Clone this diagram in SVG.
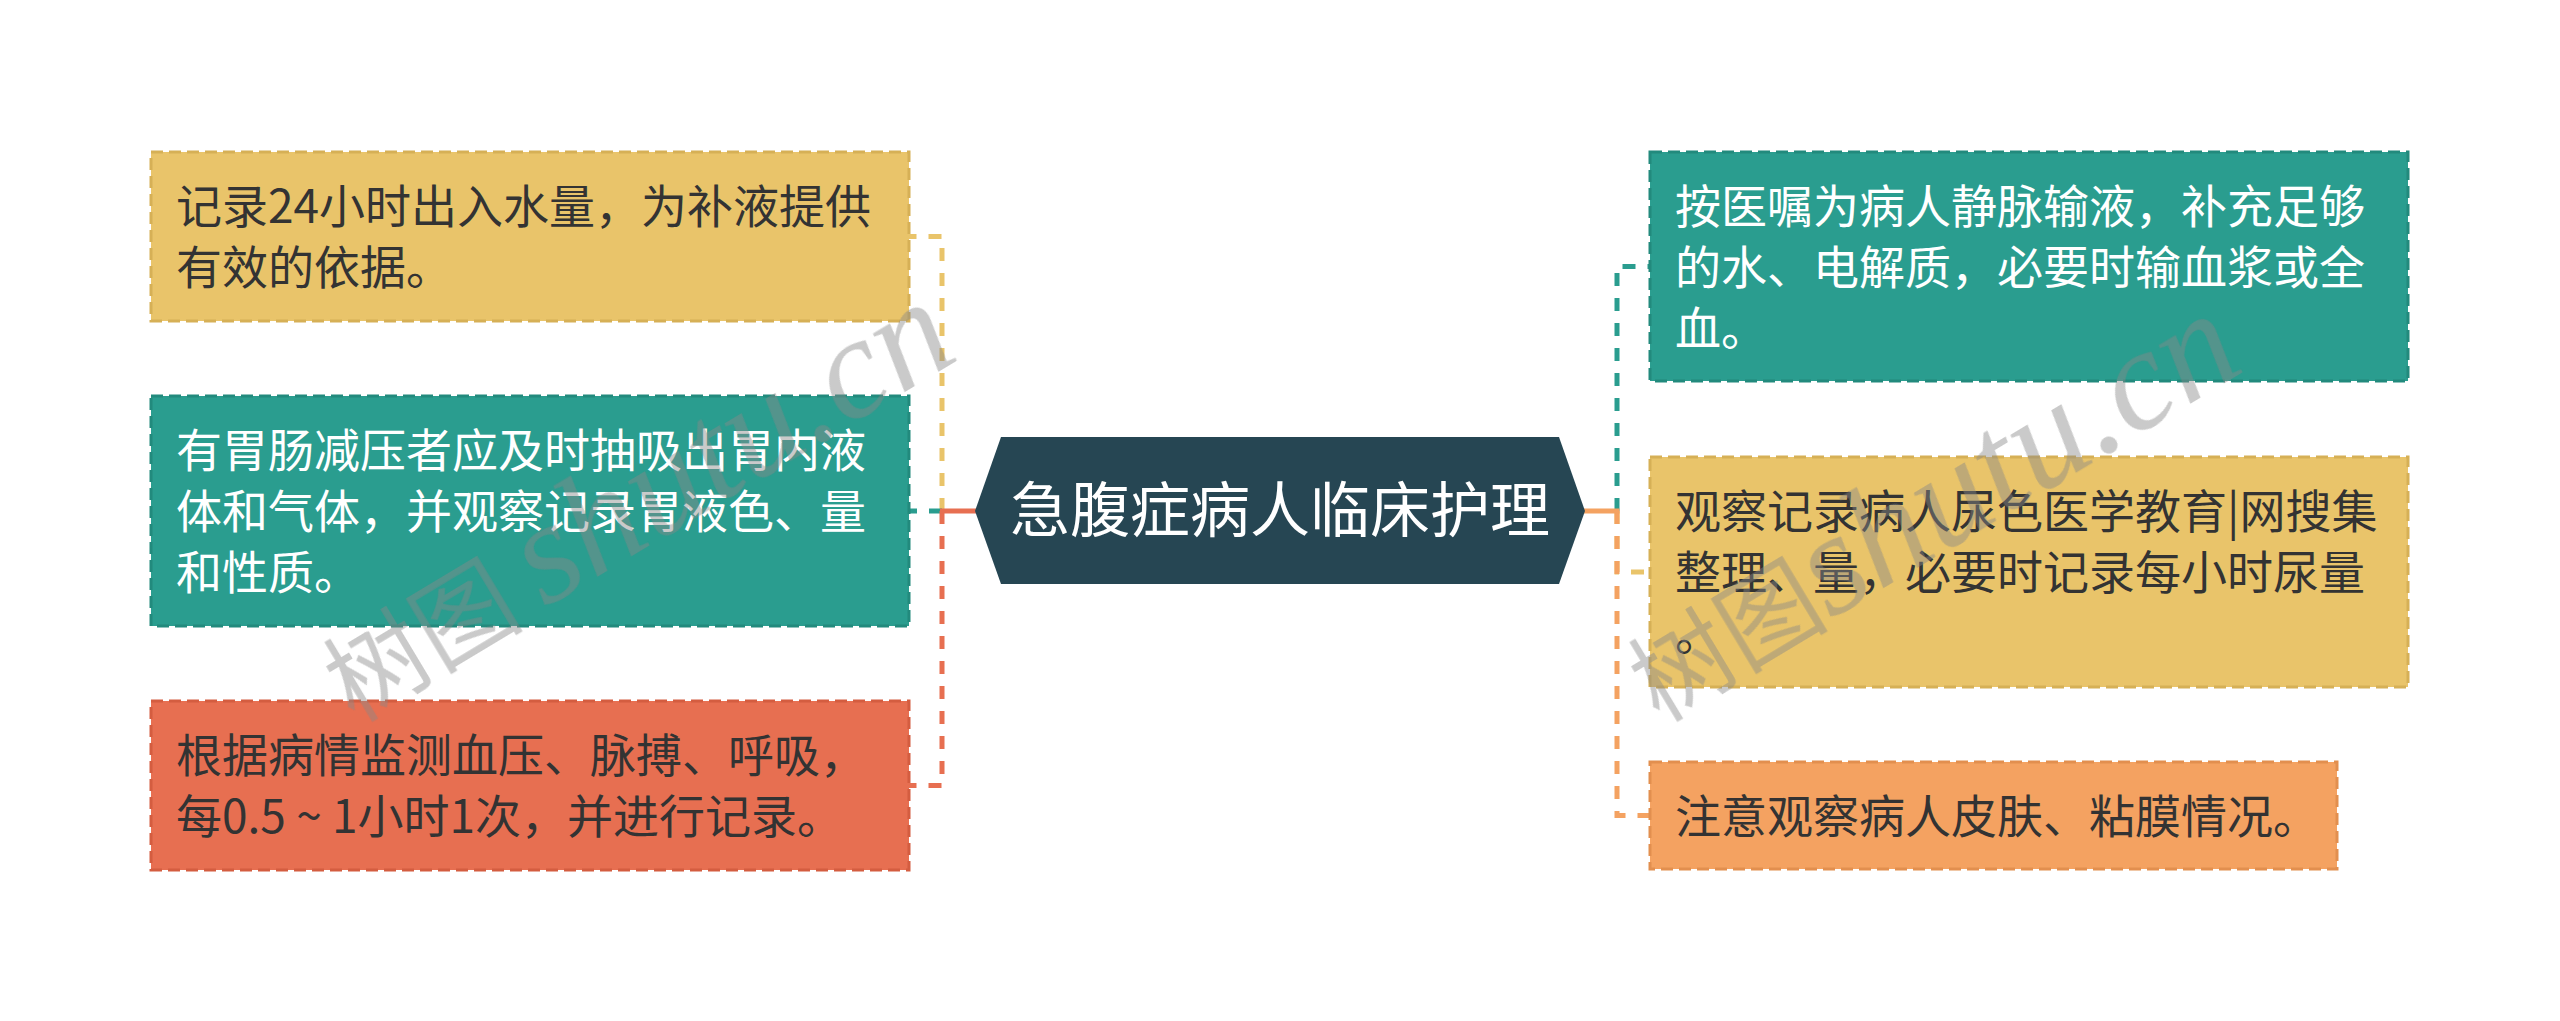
<svg xmlns="http://www.w3.org/2000/svg" width="2560" height="1021" viewBox="0 0 2560 1021">
<style>
.bx{stroke-width:3;stroke-dasharray:12 6}
.by{fill:#E9C46A;stroke:#D6B056}
.bt{fill:#2A9D8F;stroke:#228A7D}
.br{fill:#E76F51;stroke:#D45D40}
.bo{fill:#F4A261;stroke:#E28F4F}
.tx{font-family:"Noto Sans CJK SC","Noto Sans CJK JP",sans-serif;font-size:46px}
.dk{fill:#333333}
.wt{fill:#ffffff}
.cn{fill:none;stroke-width:5;stroke-dasharray:13 12}
.st{fill:none;stroke-width:5}
.wm{fill:#888888;opacity:0.45}
</style>
<rect width="2560" height="1021" fill="#ffffff"/>
<g id="connectors">
<path class="cn" stroke="#E9C46A" d="M942,511 V236.5 H909"/>
<path class="cn" stroke="#2A9D8F" d="M942,511 H909"/>
<path class="cn" stroke="#E76F51" d="M942,511 V785.5 H909"/>
<path class="st" stroke="#E76F51" d="M977,511 H940"/>
<path class="cn" stroke="#2A9D8F" d="M1617,511 V266.5 H1650"/>
<path class="cn" stroke="#E9C46A" d="M1617,511 V572 H1650"/>
<path class="cn" stroke="#F4A261" d="M1617,511 V815.5 H1650"/>
<path class="st" stroke="#F4A261" d="M1583,511 H1619.5"/>
</g>
<g id="root">
<polygon points="975,511 1001,437 1559,437 1585,511 1559,584 1001,584" fill="#264653"/>
<text x="1280" y="532" text-anchor="middle" class="tx wt" style="font-size:60px">急腹症病人临床护理</text>
</g>
<g id="node-l1">
<rect class="bx by" x="151" y="152" width="758" height="169"/>
<text class="tx dk" x="176" y="223">记录24小时出入水量，为补液提供</text>
<text class="tx dk" x="176" y="284">有效的依据。</text>
</g>
<g id="node-l2">
<rect class="bx bt" x="151" y="396" width="758" height="230"/>
<text class="tx wt" x="176" y="467">有胃肠减压者应及时抽吸出胃内液</text>
<text class="tx wt" x="176" y="528">体和气体，并观察记录胃液色、量</text>
<text class="tx wt" x="176" y="589">和性质。</text>
</g>
<g id="node-l3">
<rect class="bx br" x="151" y="701" width="758" height="169"/>
<text class="tx dk" x="176" y="772">根据病情监测血压、脉搏、呼吸，</text>
<text class="tx dk" x="176" y="833" xml:space="preserve">每0.5 ~ 1小时1次，并进行记录。</text>
</g>
<g id="node-r1">
<rect class="bx bt" x="1650" y="152" width="758" height="229"/>
<text class="tx wt" x="1675" y="223">按医嘱为病人静脉输液，补充足够</text>
<text class="tx wt" x="1675" y="284">的水、电解质，必要时输血浆或全</text>
<text class="tx wt" x="1675" y="345">血。</text>
</g>
<g id="node-r2">
<rect class="bx by" x="1650" y="457" width="758" height="230"/>
<text class="tx dk" x="1675" y="528">观察记录病人尿色医学教育|网搜集</text>
<text class="tx dk" x="1675" y="589">整理、量，必要时记录每小时尿量</text>
<text class="tx dk" x="1675" y="650">。</text>
</g>
<g id="node-r3">
<rect class="bx bo" x="1650" y="762" width="687" height="107"/>
<text class="tx dk" x="1675" y="833">注意观察病人皮肤、粘膜情况。</text>
</g>
<g id="watermark" class="wm">
<text transform="translate(354,723) rotate(-31)"><tspan style="font-family:'Noto Sans CJK SC',sans-serif;font-size:100px">树图 </tspan><tspan style="font-family:'Liberation Serif',serif;font-style:italic;font-size:145px">shutu.cn</tspan></text>
<text transform="translate(1659,723) rotate(-31)"><tspan style="font-family:'Noto Sans CJK SC',sans-serif;font-size:100px">树图</tspan><tspan style="font-family:'Liberation Serif',serif;font-style:italic;font-size:145px">shutu.cn</tspan></text>
</g>
</svg>
